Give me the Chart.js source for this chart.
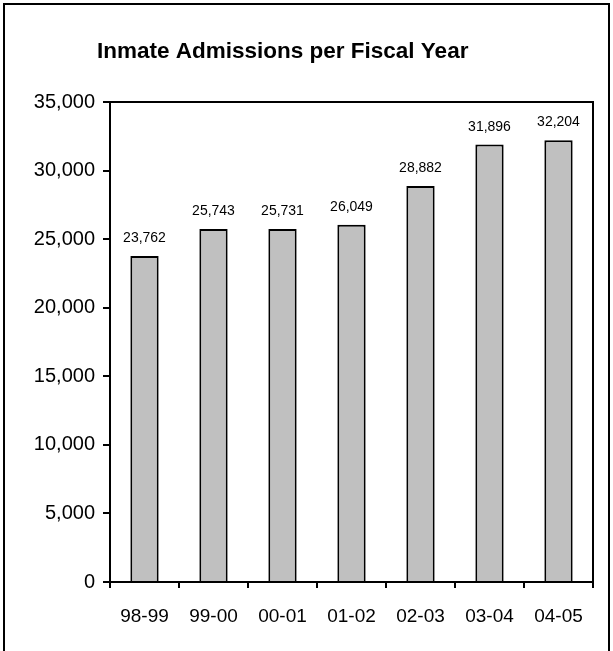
<!DOCTYPE html>
<html>
<head>
<meta charset="utf-8">
<script src="https://cdn.jsdelivr.net/npm/chart.js@4/dist/chart.umd.min.js"></script>
<style>
  body { margin: 0; background: #fff; }
</style>
</head>
<body>
<canvas id="myChart" width="613" height="651"></canvas>
<script>
// fiscal years and admissions
const years = ['98-99', '99-00', '00-01', '01-02', '02-03', '03-04', '04-05'];
const admissions = [23762, 25743, 25731, 26049, 28882, 31896, 32204];
const chartTitle = 'Inmate Admissions per Fiscal Year';

const fontFamily = '"Liberation Sans", Arial, sans-serif';

function fmt(v) {
    return Number(v).toLocaleString('en-US');
}

// frame around the picture, box around plot area, title
const decorations = {
    id: 'decorations',
    beforeDraw(chart) {
        const ctx = chart.ctx;
        ctx.save();
        ctx.fillStyle = '#fff';
        ctx.fillRect(0, 0, chart.width, chart.height);
        ctx.strokeStyle = '#000';
        ctx.lineWidth = 2;
        ctx.strokeRect(4, 4, 605, 700);
        ctx.font = 'bold 22.5px ' + fontFamily;
        ctx.fillStyle = '#000';
        ctx.textAlign = 'left';
        ctx.textBaseline = 'middle';
        ctx.fillText(chartTitle, 97, 52);
        ctx.restore();
    },
    afterDraw(chart) {
        const a = chart.chartArea;
        const ctx = chart.ctx;
        ctx.save();
        ctx.strokeStyle = '#000';
        ctx.lineWidth = 2;
        ctx.beginPath();
        ctx.moveTo(a.left, a.top);
        ctx.lineTo(a.right, a.top);
        ctx.lineTo(a.right, a.bottom);
        ctx.stroke();
        ctx.restore();
    }
};

// value labels above bars
const barLabels = {
    id: 'barLabels',
    afterDatasetsDraw(chart) {
        const ctx = chart.ctx;
        const meta = chart.getDatasetMeta(0);
        ctx.save();
        ctx.font = '14px ' + fontFamily;
        ctx.fillStyle = '#000';
        ctx.textAlign = 'center';
        ctx.textBaseline = 'alphabetic';
        meta.data.forEach((bar, i) => {
            ctx.fillText(fmt(admissions[i]), bar.x, bar.y - 14);
        });
        ctx.restore();
    }
};

const ctx = document.getElementById('myChart').getContext('2d');
const myChart = new Chart(ctx, {
    type: 'bar',
    data: {
        labels: years,
        datasets: [{
            data: admissions,
            backgroundColor: '#C0C0C0',
            borderColor: '#000',
            borderWidth: 2,
            categoryPercentage: 1,
            barPercentage: 0.41
        }]
    },
    options: {
        responsive: false,
        animation: false,
        layout: { padding: { top: 102, right: 20, bottom: 0, left: 0 } },
        plugins: {
            legend: { display: false },
            title: { display: false },
            tooltip: { enabled: false }
        },
        scales: {
            x: {
                grid: {
                    offset: true,
                    drawOnChartArea: false,
                    drawTicks: true,
                    tickLength: 6,
                    color: '#000',
                    lineWidth: 2
                },
                border: { display: true, color: '#000', width: 2 },
                ticks: {
                    color: '#000',
                    font: { family: fontFamily, size: 19 },
                    padding: 17,
                    maxRotation: 0
                },
                afterFit(scale) { scale.height = 69; }
            },
            y: {
                min: 0,
                max: 35000,
                grid: {
                    drawOnChartArea: false,
                    drawTicks: true,
                    tickLength: 7,
                    color: '#000',
                    lineWidth: 2
                },
                border: { display: true, color: '#000', width: 2 },
                ticks: {
                    stepSize: 5000,
                    color: '#000',
                    font: { family: fontFamily, size: 20 },
                    padding: 8,
                    callback: (v) => fmt(v)
                },
                afterFit(scale) { scale.width = 110; }
            }
        }
    },
    plugins: [decorations, barLabels]
});
</script>
</body>
</html>
